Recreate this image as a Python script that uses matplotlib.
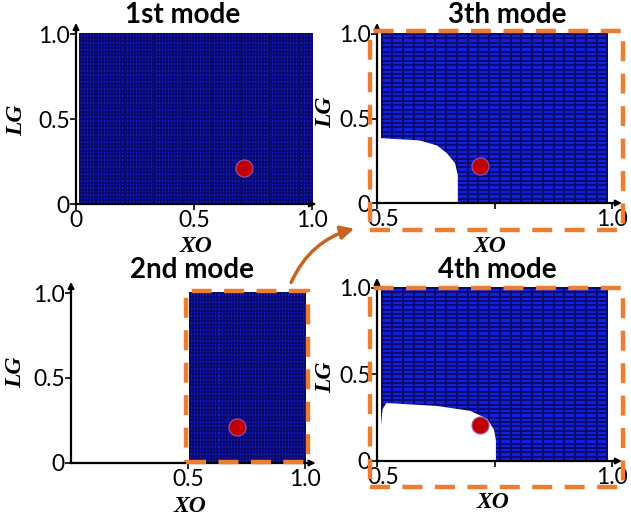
import matplotlib.pyplot as plt
import matplotlib.transforms as mtransforms
import numpy as np
from matplotlib.colors import ListedColormap
from matplotlib.patches import Rectangle, FancyArrowPatch

W, H = 631, 522

# feasible (blue) region extents per mode: xo_min, xo_max
titles = ['1st mode', '2nd mode', '3th mode', '4th mode']
blue_xo = [(0.017, 1.0), (0.51, 1.0), (0.51, 0.99), (0.51, 0.99)]
blue_cells = [(80, 48), (38, 48), (21, 38), (21, 40)]

# operating point
point_xo = [0.71, 0.71, 0.72, 0.72]
point_lg = [0.21, 0.21, 0.22, 0.21]

# infeasible (white) boundaries
b3_xo = [0.50, 0.591, 0.628, 0.649, 0.666, 0.672, 0.672]
b3_lg = [0.385, 0.37, 0.34, 0.294, 0.235, 0.165, 0.0]
b4_xo = [0.50, 0.512, 0.52, 0.628, 0.698, 0.734, 0.749, 0.753, 0.753]
b4_lg = [0.0, 0.30, 0.335, 0.318, 0.29, 0.245, 0.18, 0.12, 0.0]

xticks = [[0, 0.5, 1.0], [0.5, 1.0], [0.5, 0.75, 1.0], [0.5, 0.75, 1.0]]
xticklabels = [['0', '0.5', '1.0'], ['0.5', '1.0'], ['0.5', '', '1.0'], ['0.5', '', '1.0']]
yticks = [0, 0.5, 1.0]
yticklabels = ['0', '0.5', '1.0']

# pixel layout: (px of xa, px of xb, xa, xb, px of y=0, px of y=1, x tip, y tip)
layout = [
    (76, 312, 0.0, 1.0, 204, 34, 1.017, 1.065),
    (71, 305, 0.0, 1.0, 463, 293, 1.045, 1.065),
    (377, 612, 0.5, 1.0, 203, 34, 1.021, 1.065),
    (377, 612, 0.5, 1.0, 461, 288, 1.021, 1.058),
]
title_pos = [(183, 15), (192, 270), (507, 15), (497, 270)]
xo_pos = [(196, 247), (190, 506), (490, 247), (493, 503)]
lg_pos = [(17, 120), (16, 372), (326, 112), (326, 377)]
boxes = [None, (186, 291, 308, 462), (370, 31, 623, 230), (370, 288, 623, 487)]

blue = '#1020dc'
edge = '#0a0a70'
orange = '#ED7D31'
tick_font = dict(family='Lato', size=16.5)

fig = plt.figure(figsize=(W / 100, H / 100), dpi=100)

for i in range(4):
    x0px, x1px, xa, xb, y0px, y1px, xtip, ytip = layout[i]
    sx = (x1px - x0px) / (xb - xa)
    sy = (y0px - y1px)
    xlim = (xa - 0.01, xtip)
    ylim = (-0.02, ytip)
    left = x0px + (xlim[0] - xa) * sx
    right = x0px + (xlim[1] - xa) * sx
    bottom = y0px - ylim[0] * sy
    top = y0px - ylim[1] * sy
    ax = fig.add_axes([left / W, 1 - bottom / H, (right - left) / W, (bottom - top) / H])
    ax.patch.set_alpha(0)
    ax.set_xlim(xlim)
    ax.set_ylim(ylim)

    nx, ny = blue_cells[i]
    xe = np.linspace(blue_xo[i][0], blue_xo[i][1], nx + 1)
    ye = np.linspace(0, 1, ny + 1)
    ax.pcolormesh(xe, ye, np.ones((ny, nx)), cmap=ListedColormap([blue]),
                  edgecolors=edge, linewidth=0.2, zorder=1)
    if i == 2:
        ax.fill(b3_xo + [0.5], b3_lg + [0.0], color='white', lw=0, zorder=2)
    if i == 3:
        ax.fill(b4_xo, b4_lg, color='white', lw=0, zorder=2)

    ax.scatter(point_xo[i], point_lg[i], s=150, c='#c00000', edgecolors='#9a5aa8',
               linewidths=0.8, zorder=5)

    for s in ['top', 'right']:
        ax.spines[s].set_visible(False)
    ax.spines['left'].set_position(('data', xa))
    ax.spines['bottom'].set_position(('data', 0))
    ax.spines['left'].set_bounds(0, ytip - 0.02)
    ax.spines['bottom'].set_bounds(xa, xtip - 0.01)
    for s in ['left', 'bottom']:
        ax.spines[s].set_linewidth(1.6)
        ax.spines[s].set_zorder(6)
    ax.annotate('', xy=(xa, ytip), xytext=(xa, ytip - 0.04),
                arrowprops=dict(arrowstyle='-|>', color='k', lw=1.4, mutation_scale=9,
                                shrinkA=0, shrinkB=0), annotation_clip=False)
    ax.annotate('', xy=(xtip, 0), xytext=(xtip - 0.02 * (xb - xa), 0),
                arrowprops=dict(arrowstyle='-|>', color='k', lw=1.4, mutation_scale=9,
                                shrinkA=0, shrinkB=0), annotation_clip=False)

    ax.set_xticks(xticks[i])
    ax.set_xticklabels(xticklabels[i], fontdict=tick_font)
    ax.set_yticks(yticks)
    ax.set_yticklabels(yticklabels, fontdict=tick_font)
    ax.tick_params(length=4, width=1.2, pad=0.5)
    if xa == 0.5:
        # first x label sits a little to the right of its tick
        lab = ax.get_xticklabels()[0]
        lab.set_transform(lab.get_transform() +
                          mtransforms.ScaledTranslation(0.06, 0, fig.dpi_scale_trans))

    fig.text(title_pos[i][0] / W, 1 - title_pos[i][1] / H, titles[i], ha='center', va='center',
             family='Lato', weight='bold', size=20)
    fig.text(xo_pos[i][0] / W, 1 - xo_pos[i][1] / H, 'XO', ha='center', va='center',
             family='Liberation Serif', weight='bold', style='italic', size=17)
    fig.text(lg_pos[i][0] / W, 1 - lg_pos[i][1] / H, 'LG', ha='center', va='center', rotation=90,
             family='Liberation Serif', weight='bold', style='italic', size=17)

    if boxes[i] is not None:
        bx0, by0, bx1, by1 = boxes[i]
        fig.patches.append(Rectangle((bx0 / W, 1 - by1 / H), (bx1 - bx0) / W, (by1 - by0) / H,
                                     transform=fig.transFigure, fill=False, edgecolor=orange,
                                     lw=3.2, linestyle=(0, (4.5, 2.8)), zorder=10))

arrow = FancyArrowPatch((290 / W, 1 - 285 / H), (357 / W, 1 - 228 / H),
                        transform=fig.transFigure, connectionstyle='arc3,rad=-0.25',
                        arrowstyle='-|>', mutation_scale=20, lw=2.5, color='#C8641E')
fig.patches.append(arrow)

fig.savefig('out.png', dpi=100)
